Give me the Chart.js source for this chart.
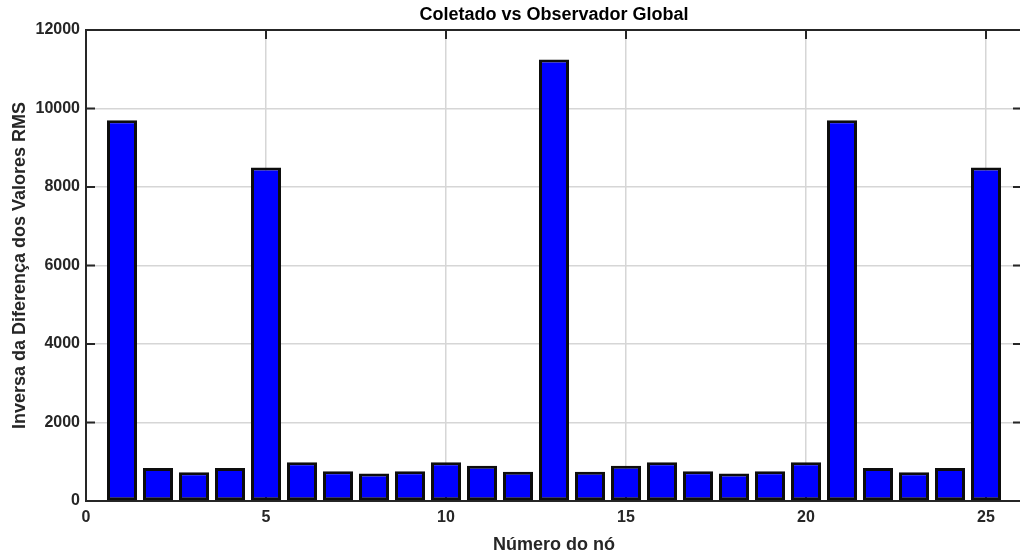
<!DOCTYPE html>
<html>
<head>
<meta charset="utf-8">
<title>Coletado vs Observador Global</title>
<script src="https://cdn.jsdelivr.net/npm/chart.js@4/dist/chart.umd.min.js"></script>
<style>
  html, body { margin: 0; padding: 0; background: #fff; overflow: hidden; }
  #wrap { width: 1030px; height: 556px; }
</style>
</head>
<body>
<div id="wrap"><canvas id="rmsChart" width="1030" height="556"></canvas></div>
<script>
// Inverse RMS difference per node
const nodes = [1, 2, 3, 4, 5, 6, 7, 8, 9, 10, 11, 12, 13, 14, 15, 16, 17, 18, 19, 20, 21, 22, 23, 24, 25];
const inverseRms = [9700, 840, 730, 840, 8500, 990, 760, 700, 760, 990, 900, 745, 11250,
                    745, 900, 990, 760, 700, 760, 990, 9700, 840, 730, 840, 8500];
const xTicks = [0, 5, 10, 15, 20, 25];
const yTicks = [0, 2000, 4000, 6000, 8000, 10000, 12000];

const axisColor = '#262626';
const gridColor = '#d6d6d6';
const fontFamily = "'Liberation Sans', Arial, Helvetica, sans-serif";

// box on, inward tick marks below the bars (grid layer bottom)
const axesBox = {
    id: 'axesBox',
    beforeDatasetsDraw(chart) {
        const { ctx, chartArea: a, scales } = chart;
        const len = 9;
        ctx.save();
        ctx.strokeStyle = axisColor;
        ctx.lineWidth = 2;
        ctx.beginPath();
        scales.x.ticks.forEach(t => {
            const px = scales.x.getPixelForValue(t.value);
            ctx.moveTo(px, a.bottom); ctx.lineTo(px, a.bottom - len);
            ctx.moveTo(px, a.top); ctx.lineTo(px, a.top + len);
        });
        scales.y.ticks.forEach(t => {
            const py = scales.y.getPixelForValue(t.value);
            ctx.moveTo(a.left, py); ctx.lineTo(a.left + len, py);
            ctx.moveTo(a.right, py); ctx.lineTo(a.right - len, py);
        });
        ctx.stroke();
        ctx.restore();
    },
    afterDraw(chart) {
        const { ctx, chartArea: a } = chart;
        ctx.save();
        ctx.strokeStyle = axisColor;
        ctx.lineWidth = 2;
        ctx.beginPath();
        ctx.moveTo(a.left, a.top);
        ctx.lineTo(a.right, a.top);
        ctx.lineTo(a.right, a.bottom);
        ctx.stroke();
        ctx.restore();
    }
};

const ctx = document.getElementById('rmsChart').getContext('2d');
new Chart(ctx, {
    type: 'bar',
    data: {
        datasets: [{
            data: nodes.map((n, i) => ({ x: n, y: inverseRms[i] })),
            backgroundColor: '#0000ff',
            borderColor: '#0d0d0d',
            borderWidth: 3,
            borderSkipped: false,
            inflateAmount: 0,
            categoryPercentage: 1,
            barPercentage: 30 / 36
        }]
    },
    options: {
        responsive: false,
        animation: false,
        // chart area 86..1022 so one node step is a whole 36px
        layout: { padding: { left: 0, right: 8, top: 0, bottom: 0 } },
        plugins: {
            legend: { display: false },
            tooltip: { enabled: false },
            title: {
                display: true,
                text: 'Coletado vs Observador Global',
                fullSize: false,
                color: '#000',
                font: { family: fontFamily, size: 18, weight: 'bold' },
                padding: { top: 4, bottom: 4.4 }
            }
        },
        scales: {
            x: {
                type: 'linear',
                min: 0,
                max: 26,
                offset: false,
                afterBuildTicks(scale) {
                    scale.ticks = xTicks.map(v => ({ value: v }));
                },
                afterFit(scale) { scale.height = 55; },
                grid: { offset: false, color: gridColor, lineWidth: 1.5, drawTicks: false },
                border: { display: true, color: axisColor, width: 2 },
                ticks: {
                    color: axisColor,
                    padding: 7,
                    maxRotation: 0,
                    font: { family: fontFamily, size: 16, weight: 'bold' }
                },
                title: {
                    display: true,
                    text: 'Número do nó',
                    color: axisColor,
                    font: { family: fontFamily, size: 18, weight: 'bold' },
                    padding: { top: 0, bottom: 0.5 }
                }
            },
            y: {
                min: 0,
                max: 12000,
                afterBuildTicks(scale) {
                    scale.ticks = yTicks.map(v => ({ value: v }));
                },
                afterFit(scale) { scale.width = 86; },
                grid: { color: gridColor, lineWidth: 1.5, drawTicks: false },
                border: { display: true, color: axisColor, width: 2 },
                ticks: {
                    color: axisColor,
                    padding: 6,
                    font: { family: fontFamily, size: 16, weight: 'bold' },
                    callback: v => String(v)
                },
                title: {
                    display: true,
                    text: 'Inversa da Diferença dos Valores RMS',
                    color: axisColor,
                    font: { family: fontFamily, size: 18, weight: 'bold' },
                    padding: { top: 9, bottom: 0 }
                }
            }
        }
    },
    plugins: [axesBox]
});
</script>
</body>
</html>
